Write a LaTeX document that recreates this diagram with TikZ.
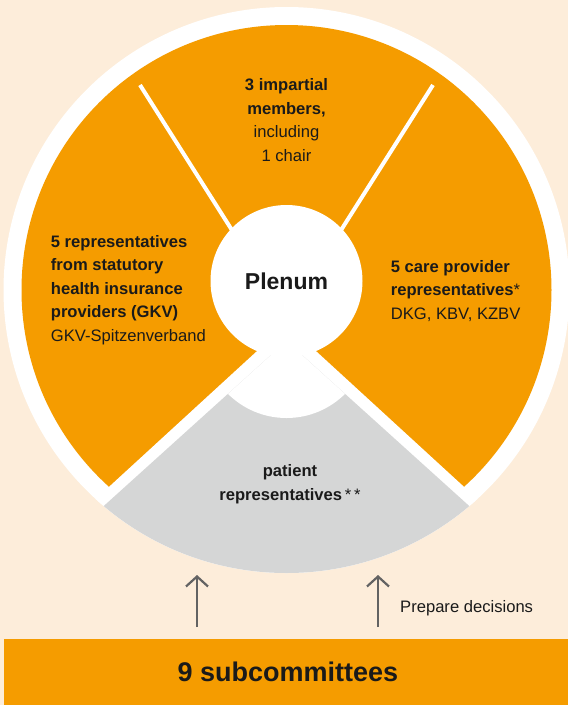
\documentclass[tikz,border=0pt]{standalone}
\usepackage{fontspec}
\setmainfont{Liberation Sans}
\usetikzlibrary{arrows.meta}
\definecolor{cream}{RGB}{253,237,218}
\definecolor{gbaorange}{RGB}{245,156,0}
\definecolor{gbagray}{RGB}{213,214,214}
\definecolor{arrowgray}{RGB}{99,99,99}
\definecolor{inkblack}{RGB}{26,26,26}
\begin{document}
\begin{tikzpicture}[x=1pt,y=-1pt,
  bodytext/.style={text=inkblack, inner sep=0pt, font=\fontsize{16.6}{23.5}\selectfont},
  divider/.style={white, line width=4pt},
  uparrow/.style={draw=arrowgray, line width=2.2pt, -{Straight Barb[length=10pt,width=22pt,line join=miter]}}]
\useasboundingbox (0,0) rectangle (568,705);
\clip (0,0) rectangle (568,705);
\fill[cream] (0,0) rectangle (568,705);
\coordinate (C) at (286.5,290);
% outer white ring and orange disk
\fill[white] (C) circle[radius=283pt];
\fill[gbaorange] (C) circle[radius=265pt];
% lower gap and grey sector
\begin{scope}
  \clip (C) circle[radius=283pt];
  \fill[white] (286.5,324) -- (-8.3,594.4) -- (-10,800) -- (583,800) -- (581.3,594.4) -- cycle;
  \begin{scope}
    \clip (286.5,341) -- (-10.3,609) -- (-10,800) -- (583,800) -- (583.3,609) -- cycle;
    \fill[gbagray] (-10,300) rectangle (583,800);
    \fill[white] (286.5,335) circle[radius=83pt];
  \end{scope}
\end{scope}
% upper dividers
\draw[divider] (140,85) -- (240,242.8);
\draw[divider] (433,85) -- (333,242.8);
% centre
\node[circle, fill=white, minimum size=152pt, inner sep=0pt, text=inkblack,
      font=\bfseries\fontsize{23}{26}\selectfont] (plenum) at (286.5,281) {Plenum};
% sector texts
\node[bodytext, align=center] (impartial) at (286.5,120)
  {\textbf{3 impartial}\\\textbf{members,}\\including\\1 chair};
\node[bodytext, align=left, anchor=west] (gkv) at (50.7,290)
  {\textbf{5 representatives}\\\textbf{from statutory}\\\textbf{health insurance}\\\textbf{providers (GKV)}\\GKV-Spitzenverband};
\node[bodytext, align=left, anchor=west] (care) at (390.7,291)
  {\textbf{5 care provider}\\\textbf{representatives}*\\DKG, KBV, KZBV};
\node[bodytext, align=center] (patient) at (290,484)
  {\textbf{patient}\\\textbf{representatives}\,*\,*};
% subcommittees bar
\node[fill=gbaorange, minimum width=568.4pt, minimum height=66pt, inner sep=0pt,
      anchor=north west, text=inkblack, font=\bfseries\fontsize{27}{30}\selectfont]
      (bar) at (3.6,639) {9 subcommittees};
% arrows
\coordinate (a1s) at (197,627);
\coordinate (a1e) at (197,575);
\coordinate (a2s) at (378,627);
\coordinate (a2e) at (378,575);
\draw[uparrow] (a1s) -- (a1e);
\draw[uparrow] (a2s) -- (a2e);
\node[bodytext, anchor=west] (prep) at (400,608) {Prepare decisions};
\end{tikzpicture}
\end{document}
